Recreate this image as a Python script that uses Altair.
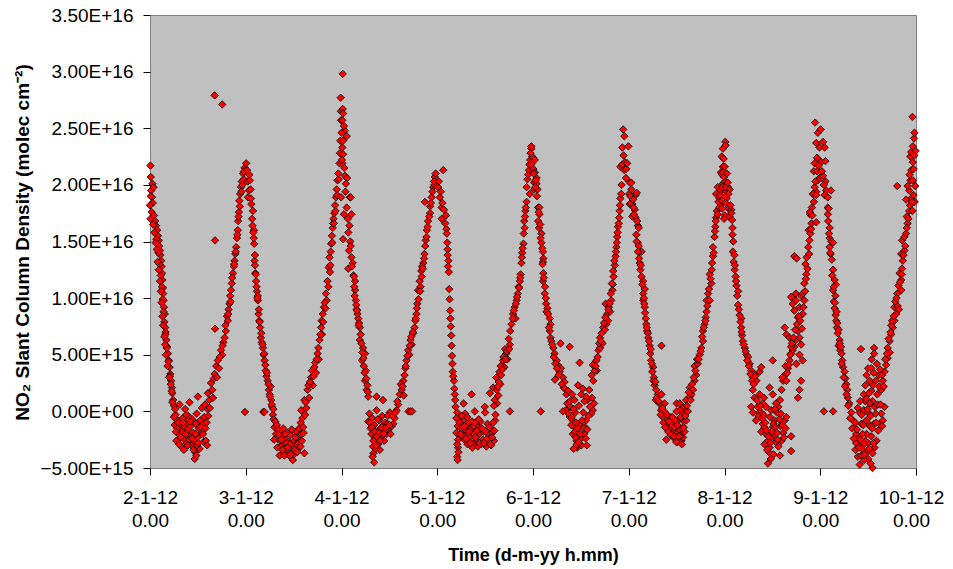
import altair as alt
import pandas as pd

# Readings per day: (hour of day, NO2 SCD in units of 1e15 molec cm-2)
day_02jan = [
    (0.1, 21.7), (0.2, 20.7), (0.3, 19.5), (0.5, 18.9), (0.6, 20.1), (0.1, 17.0), (0.4, 17.6), (0.7, 18.4),
    (0.2, 19.0), (0.9, 19.8), (0.0, 18.2), (1.0, 17.3),
    (1.3, 16.8), (1.5, 16.4), (1.8, 16.0), (2.0, 15.5), (2.2, 15.1), (2.3, 14.6), (2.5, 14.2), (2.6, 13.8),
    (2.8, 13.3), (2.9, 12.8), (3.0, 12.2), (3.1, 11.6), (3.25, 10.9), (3.3, 10.4), (3.4, 9.8), (3.5, 9.2),
    (3.7, 8.6), (3.8, 7.4), (3.9, 7.0), (4.1, 6.3), (4.3, 5.7), (4.5, 5.1), (4.7, 4.5), (4.9, 3.9), (5.1, 3.3),
    (5.3, 2.7), (5.5, 2.1), (5.6, 1.6), (1.6, 15.2), (2.1, 14.0), (2.4, 13.0), (2.7, 12.0), (3.0, 11.0),
    (3.2, 9.9), (3.4, 8.8), (3.6, 7.9), (3.9, 6.8), (4.2, 5.6), (4.6, 4.4), (5.0, 3.1), (5.4, 1.8), (5.8, 1.0),
    (6.0, 0.5),
    (6.0, -0.5), (6.2, -1.2), (6.4, -0.3), (6.6, -2.6), (6.8, -1.5), (7.0, -0.8), (7.2, -2.0), (7.4, 0.6),
    (7.6, -1.1), (7.8, -3.1), (8.0, -1.8), (8.2, -0.6), (8.4, -2.4), (8.6, -1.4), (8.8, 0.2), (9.0, -1.0),
    (9.2, -2.8), (9.4, -1.6), (9.6, -0.4), (9.9, 0.8), (10.0, -2.2), (10.2, -1.3), (10.4, -3.0), (10.6, -0.7),
    (10.8, -1.9), (11.0, -2.6), (11.2, -4.2), (11.3, -3.6), (11.5, -1.1), (11.7, -0.2), (11.9, -2.3),
    (12.0, 1.3), (12.2, -1.5), (12.4, -3.3), (12.6, -0.8), (12.8, -2.0), (13.0, 0.3), (13.2, -1.2),
    (13.4, -2.7), (13.6, -0.5), (13.8, 0.6), (14.0, -2.6), (14.2, -1.0), (14.4, 0.2), (14.6, -0.4),
    (8.5, -3.4), (9.8, -2.5), (11.8, -3.0), (7.3, -2.9),
    (14.5, 1.6), (14.9, 1.0), (15.3, 2.5), (15.6, 1.9), (16.0, 2.9), (16.2, 3.3), (16.6, 4.0), (17.0, 4.5),
    (17.3, 3.8), (17.8, 5.4), (18.1, 5.0), (18.4, 6.1), (18.7, 6.5), (19.0, 7.1), (19.3, 8.4), (19.5, 8.0),
    (19.7, 9.0), (19.9, 9.5), (20.1, 10.2), (20.3, 10.7), (20.5, 11.3), (20.8, 12.2), (21.0, 12.8),
    (21.2, 13.3), (21.4, 13.9), (21.6, 14.5), (21.8, 15.3), (22.0, 16.0), (22.1, 16.8), (22.3, 17.6),
    (22.4, 18.6), (22.6, 19.2), (22.8, 19.8), (23.0, 20.3), (23.3, 21.0), (23.5, 20.5), (23.7, 21.5),
    (23.9, 21.2), (23.8, -0.05),
    (16.2, 27.9), (18.1, 27.1), (16.3, 15.1), (16.3, 7.3),
]
day_02jan_more = [
    (0.8, 16.5), (1.1, 15.8), (1.4, 14.9), (1.7, 14.3), (1.9, 13.2), (2.2, 12.5), (2.5, 11.5), (2.7, 10.6),
    (2.9, 9.6), (3.1, 8.4), (3.3, 7.6), (3.6, 6.6), (3.8, 5.9), (4.0, 5.0), (4.4, 4.0), (4.8, 3.0),
    (5.2, 2.4), (5.6, 0.8), (6.3, 0.2),
    (6.5, -1.8), (7.1, -1.0), (7.7, -2.3), (8.3, -1.0), (8.9, -2.0), (9.5, -3.0), (10.1, -0.9), (10.5, -2.4),
    (10.9, -3.4), (11.4, -2.0), (12.1, -2.8), (12.7, -1.4), (13.3, -2.0), (13.9, -1.5), (14.3, -3.0),
    (11.6, -3.9), (9.1, -0.3),
    (15.0, 0.3), (15.8, 1.2), (16.8, 3.0), (17.5, 4.8), (18.2, 5.8), (18.9, 7.6), (19.6, 8.6), (20.2, 9.7),
    (20.6, 11.8), (21.1, 13.0), (21.5, 14.1), (21.9, 15.6), (22.2, 17.2), (22.5, 18.1), (22.9, 19.4),
    (23.2, 20.0), (23.6, 21.2),
]

day_03jan = [
    (0.1, 21.9), (0.3, 21.3), (0.5, 20.3), (0.55, 18.9), (0.8, 19.5), (1.0, 20.4), (1.2, 19.6), (1.4, 18.3),
    (1.6, 17.0), (1.8, 17.7), (2.05, 16.0), (2.1, 14.8), (2.2, 13.3), (2.3, 12.9), (2.6, 11.5), (2.8, 10.6),
    (3.05, 9.8), (3.2, 8.6), (3.6, 7.4), (3.8, 6.5), (4.3, 5.6), (4.7, 4.5), (5.0, 3.6), (5.5, 2.7),
    (5.8, 1.9), (6.4, 1.0), (4.4, -0.05), (4.7, -0.05), (2.0, 15.3), (2.4, 12.2), (3.0, 10.2), (3.4, 8.0),
    (4.0, 6.1), (4.5, 5.0), (5.2, 3.1), (6.0, 1.5), (6.2, 2.2), (6.6, 0.4),
    (6.8, -0.3), (7.0, -0.7), (7.2, -1.4), (7.4, -0.9), (7.6, -2.0), (7.8, -1.2), (8.0, -2.4), (8.2, -1.6),
    (8.5, -3.9), (8.6, -2.6), (8.8, -1.9), (9.0, -3.0), (9.2, -2.2), (9.4, -1.5), (9.6, -2.8), (9.8, -3.3),
    (10.0, -2.5), (10.2, -3.6), (10.4, -1.9), (10.6, -3.0), (10.8, -2.7), (11.0, -3.4), (11.2, -2.1),
    (11.4, -3.2), (11.6, -2.9), (11.8, -4.3), (12.0, -3.5), (12.2, -2.6), (12.4, -3.1), (12.6, -1.8),
    (12.8, -2.9), (13.0, -2.3), (13.2, -3.3), (13.4, -1.5), (13.6, -2.6), (13.8, -1.0), (14.0, -2.0),
    (14.2, -0.6), (14.4, -1.4), (14.7, -3.7), (14.9, -0.3), (10.9, -3.9), (12.1, -3.8), (9.5, -3.7),
    (11.5, -1.6),
    (13.9, 0.1), (14.7, 1.0), (15.2, 0.3), (15.5, 1.9), (15.9, 1.2), (16.4, 3.0), (16.8, 2.3), (17.2, 3.9),
    (17.6, 3.4), (18.0, 5.1), (18.3, 4.6), (18.5, 6.3), (18.9, 7.4), (19.1, 6.8), (19.3, 8.6), (19.6, 9.2),
    (20.1, 10.4), (20.3, 9.8), (20.5, 11.5), (20.8, 12.7), (21.0, 13.6), (21.2, 12.9), (21.4, 14.8),
    (21.6, 15.5), (21.8, 16.2), (22.0, 17.0), (22.2, 17.5), (22.4, 18.2), (22.6, 18.9), (22.8, 19.6),
    (23.0, 20.4), (23.2, 21.0), (23.5, 21.9), (23.6, 22.8), (23.7, 23.9), (23.8, 27.7), (23.85, 26.5),
    (23.9, 25.7),
]
day_03jan_more = [
    (0.9, 20.9), (1.3, 18.8), (1.7, 16.4), (1.9, 15.8), (2.3, 13.8), (2.5, 12.1), (2.7, 11.0), (2.9, 10.0),
    (3.3, 9.0), (3.5, 7.9), (3.9, 6.9), (4.2, 5.9), (4.6, 5.1), (4.9, 4.1), (5.3, 3.4), (5.7, 2.4),
    (6.1, 1.3), (6.5, 0.6), (6.9, 0.2),
    (7.1, -2.5), (7.9, -3.2), (8.3, -2.1), (8.9, -2.5), (9.3, -3.4), (9.9, -2.0), (10.3, -2.8), (10.7, -3.5),
    (11.1, -2.9), (11.3, -3.8), (11.7, -3.3), (12.3, -3.4), (12.5, -2.3), (12.9, -3.6), (13.3, -2.8),
    (13.7, -3.1), (14.1, -2.6), (14.5, -1.9), (10.5, -3.2), (9.7, -3.9),
    (15.0, 0.8), (15.7, 2.3), (16.1, 2.6), (16.6, 3.6), (17.0, 3.1), (17.4, 4.3), (17.8, 4.6), (18.2, 5.6),
    (18.7, 6.8), (19.0, 8.0), (19.4, 7.9), (19.8, 9.6), (20.0, 9.1), (20.7, 11.0), (21.1, 12.3),
    (21.3, 14.1), (21.7, 14.9), (21.9, 16.6), (22.1, 16.6), (22.5, 17.7), (22.9, 19.1), (23.3, 20.5),
]

day_04jan = [
    (0.3, 29.8), (0.3, 26.7), (0.4, 26.3), (0.2, 25.7), (0.85, 24.8), (0.0, 24.6), (1.3, 24.3), (0.4, 23.9),
    (0.2, 23.3), (0.4, 22.7), (0.2, 21.9), (0.85, 20.8), (1.4, 20.6), (1.1, 20.1), (-0.1, 18.9), (2.1, 18.9),
    (2.3, 18.9), (1.3, 18.0), (2.5, 17.4), (0.6, 17.4), (0.4, 15.2), (1.7, 15.8), (1.9, 14.2), (2.5, 13.6),
    (1.7, 12.6), (2.8, 13.1), (3.4, 11.5), (3.4, 10.7), (3.6, 9.8), (4.2, 8.2), (4.6, 7.4), (4.6, 6.3),
    (5.4, 5.6), (5.9, 5.1), (5.1, 4.5), (6.1, 3.6), (5.9, 2.7), (6.3, 1.9), (6.7, 1.3), (8.8, 1.3),
    (10.4, 1.0), (3.0, 12.0), (3.8, 9.0), (4.4, 7.8), (5.0, 6.0), (5.6, 4.0), (3.2, 11.0), (4.0, 8.6),
    (6.5, 2.3),
    (6.7, -0.9), (7.0, -0.2), (7.3, -1.5), (7.5, -2.0), (7.7, -0.6), (7.9, -3.1), (8.0, -3.7), (8.2, -4.5),
    (8.2, -1.2), (8.5, -2.4), (8.8, 0.1), (9.0, -1.8), (9.2, -2.9), (9.4, -0.8), (9.6, -3.4), (9.8, -1.5),
    (10.0, -2.2), (10.2, -0.4), (10.4, -1.3), (10.7, -2.6), (11.0, -1.0), (11.3, -2.0), (11.5, -1.1),
    (11.8, -1.6), (12.1, -0.1), (12.3, -2.0), (12.6, -1.3), (13.0, -1.1), (13.3, -0.6), (13.8, 0.1),
    (14.2, 0.6), (14.6, 1.5), (8.6, -3.3), (9.3, -2.7), (10.9, -1.7),
    (15.1, 1.9), (15.5, 2.7), (15.8, 3.2), (16.3, 4.5), (16.7, 5.4), (17.6, 5.9), (18.0, 6.9), (18.3, 7.4),
    (18.8, 8.6), (19.0, 9.5), (19.2, 10.7), (19.6, 11.5), (20.0, 12.4), (20.5, 13.1), (20.8, 13.9),
    (21.1, 15.1), (21.4, 16.0), (21.7, 16.8), (22.2, 17.5), (20.9, 18.5), (22.2, 18.1), (22.6, 18.9),
    (23.0, 19.8), (23.4, 20.7), (23.6, 21.0), (23.3, 20.0), (16.0, 3.8), (17.0, 5.0), (18.5, 8.0),
    (19.8, 11.0), (17.3, 6.3), (20.2, 12.8), (14.9, 2.4), (15.6, 1.4),
    (16.8, 0.0), (17.3, 0.0), (17.7, 0.0),
]
day_04jan_more = [
    (0.6, 25.2), (0.1, 22.2), (0.7, 21.5), (1.0, 19.4), (1.6, 17.0), (2.0, 16.4), (2.2, 15.0), (2.3, 14.6),
    (2.6, 12.8), (3.1, 11.9), (3.3, 10.2), (3.7, 9.4), (3.9, 8.9), (4.3, 7.6), (4.8, 6.8), (5.2, 5.2),
    (5.5, 4.7), (5.8, 3.4), (6.2, 2.9), (6.6, 1.7),
    (7.1, -1.0), (7.6, -1.4), (8.0, -2.6), (8.4, -1.8), (8.7, -3.0), (8.9, -2.2), (9.1, -0.7), (9.5, -1.9),
    (9.7, -2.6), (10.1, -1.4), (10.5, -2.0), (11.2, -1.4), (11.6, -0.4), (12.0, -1.2), (12.8, -0.4),
    (13.5, -0.1), (14.0, 0.9), (7.8, -4.0),
    (15.3, 2.2), (16.1, 4.0), (16.5, 4.9), (17.1, 5.8), (17.5, 6.6), (17.9, 7.0), (18.6, 8.2), (18.9, 9.1),
    (19.3, 9.9), (19.7, 10.6), (20.1, 11.9), (20.4, 12.6), (20.7, 13.5), (21.0, 14.6), (21.3, 15.4),
    (21.6, 16.3), (22.0, 17.2), (22.4, 18.4), (22.8, 19.4), (23.2, 20.3),
]

day_05jan = [
    (0.2, 19.8), (0.65, 18.9), (1.1, 18.0), (1.5, 21.3), (1.3, 18.4), (1.1, 17.0), (2.2, 17.3),
    (2.3, 16.1), (2.4, 15.7), (2.5, 14.9), (2.6, 14.3), (2.8, 13.3), (2.9, 12.3), (3.0, 10.8), (3.2, 8.9),
    (3.4, 7.5), (3.5, 6.7), (3.7, 4.9), (3.8, 4.2), (3.9, 3.5), (4.2, 2.7), (4.3, 2.0), (4.4, 1.5),
    (5.0, -0.1), (5.1, -1.3), (5.2, -2.5), (5.2, -3.2), (5.0, -4.0), (5.1, -4.3), (4.8, -0.6), (4.8, -1.9),
    (5.3, -3.6), (5.0, -2.9),
    (6.5, -0.8), (6.6, 0.7), (6.0, -1.5), (6.3, -2.1), (7.3, -1.7), (7.0, -0.2), (8.1, -2.3), (8.6, 1.5),
    (7.8, -1.0), (9.0, -2.8), (9.4, 0.0), (9.8, -1.3), (10.2, -3.1), (10.5, -2.0), (10.8, -0.9),
    (11.4, -2.5), (11.9, 0.4), (12.0, -0.1), (12.3, -3.1), (12.6, -1.1), (13.1, -2.3), (13.5, -3.0),
    (13.3, -1.6), (8.4, -1.5), (7.6, -2.9), (9.2, -2.0), (10.0, -2.6), (11.0, -2.9), (12.8, -2.7),
    (13.8, -1.9), (14.2, -2.6), (14.5, -0.8), (6.8, -2.5), (8.8, -3.2), (11.6, -1.8),
    (13.2, 1.6), (14.0, 2.1), (14.8, 3.0), (15.0, 0.7), (15.3, 1.4), (15.6, 3.5), (16.5, 4.5), (16.0, 3.2),
    (17.3, 5.1), (18.2, 5.9), (18.3, 7.1), (18.6, 7.7), (19.0, 8.6), (19.4, 9.2), (19.9, 9.8),
    (20.2, 10.4), (20.7, 11.5), (20.9, 12.1), (21.1, 13.1), (21.3, 14.0), (21.6, 14.8), (21.7, 15.7),
    (21.8, 16.8), (22.1, 17.7), (22.4, 18.5), (22.4, 19.8), (22.6, 20.5), (23.0, 21.3), (23.3, 22.2),
    (23.6, 23.2), (23.6, 23.4), (23.8, 22.5), (18.2, 0.0),
    (14.4, 1.0), (15.8, 2.4), (16.8, 3.9), (17.6, 4.6), (17.0, 5.5), (19.6, 8.2), (20.4, 11.0),
    (15.4, 2.6), (14.6, -0.3),
]
day_05jan_more = [
    (0.4, 20.3), (0.9, 19.4), (1.7, 17.8), (2.0, 16.6), (2.6, 13.8), (2.7, 12.8), (3.1, 9.9), (3.3, 8.2),
    (3.6, 5.8), (4.0, 3.1), (4.5, 1.0), (4.6, 0.4),
    (5.6, -1.0), (5.8, -2.0), (6.1, -0.4), (6.4, -1.3), (6.9, -1.3), (7.2, -2.4), (7.5, -0.5), (7.9, -1.8),
    (8.3, -2.8), (8.7, -0.9), (9.1, -1.3), (9.6, -2.3), (10.0, -1.7), (10.4, -0.7), (10.6, -2.8),
    (11.2, -1.5), (11.7, -2.8), (12.2, -1.8), (12.5, -2.4), (13.0, -1.4), (13.3, -2.9), (13.7, -2.3),
    (14.0, -1.0), (14.3, -1.7), (9.5, -1.0),
    (14.2, 0.5), (14.9, 1.9), (15.2, 2.2), (15.9, 4.0), (16.3, 3.7), (16.6, 4.8), (17.1, 4.6), (17.5, 5.3),
    (17.9, 6.4), (18.0, 5.5), (18.9, 8.2), (19.2, 8.9), (19.7, 9.5), (20.0, 10.1), (20.5, 10.9),
    (20.8, 11.8), (21.2, 13.6), (21.4, 14.4), (21.9, 16.2), (22.0, 17.2), (22.2, 18.0), (22.8, 20.9),
    (23.1, 21.8), (23.4, 22.8),
]

day_06jan = [
    (0.0, 22.4), (-0.4, 21.8), (0.45, 22.2), (0.1, 21.4), (0.5, 21.1), (0.3, 20.2), (0.9, 20.6),
    (0.9, 20.1), (0.3, 19.6), (-0.8, 19.2), (1.1, 19.6), (0.6, 19.8),
    (1.3, 18.0), (1.6, 18.0), (1.6, 17.4), (1.3, 16.8), (1.5, 16.2), (2.1, 15.7), (2.1, 14.9), (2.5, 14.1),
    (2.6, 13.5), (2.5, 13.2), (2.6, 12.2), (2.5, 11.5), (2.95, 10.4), (3.3, 9.5), (3.6, 9.1), (4.2, 8.2),
    (4.4, 7.7), (4.2, 7.1), (4.4, 6.5), (5.1, 5.6), (5.4, 5.1), (5.9, 4.5), (6.2, 4.1), (6.7, 3.5),
    (7.5, 3.0), (7.7, 2.1), (7.0, 3.8), (7.9, 2.6),
    (1.95, 0.0), (6.9, 6.0), (9.2, 5.7), (11.7, 4.3), (5.5, 2.8),
    (8.4, 1.5), (8.2, 0.1), (8.6, 0.7), (9.2, -0.5), (9.4, 0.4), (10.0, -0.8), (10.4, -1.4), (10.0, -2.0),
    (10.9, -2.6), (11.1, -3.2), (11.3, -2.2), (10.9, -3.1), (12.1, -3.0), (13.5, -3.0), (11.7, -1.1),
    (12.6, -0.1), (12.1, 1.5), (13.0, -1.4), (13.3, -0.8), (13.7, 1.0), (14.1, 1.9), (15.0, 0.1),
    (14.6, -0.2), (15.3, 0.7), (11.3, 2.3), (12.5, 2.0), (9.8, 1.5), (10.6, -0.1), (7.5, 0.0),
    (10.2, -3.3), (11.6, -2.8), (11.0, -2.9), (12.0, -2.4), (12.8, -2.0), (9.6, -1.2), (10.8, -1.0),
    (14.7, 3.2), (15.1, 2.7), (15.0, 4.1), (15.9, 4.5), (16.4, 5.4), (16.8, 5.6), (16.8, 6.5), (17.2, 6.9),
    (17.6, 7.4), (18.0, 7.2), (18.4, 7.7), (18.6, 8.6), (18.8, 8.0), (19.3, 8.8), (19.6, 9.8), (19.9, 10.7),
    (20.2, 11.9), (20.5, 12.9), (20.7, 13.7), (20.9, 14.5), (21.1, 15.4), (21.3, 16.3), (21.5, 16.6),
    (21.7, 17.7), (21.9, 18.8), (22.1, 19.2), (21.9, 21.6), (22.4, 21.8), (22.9, 21.3), (23.3, 20.6),
    (23.4, 21.4), (22.4, 23.3), (23.9, 23.4), (22.9, 24.3), (22.6, 24.9), (18.2, 9.5),
    (16.0, 3.6), (17.4, 6.0), (19.0, 9.2), (20.0, 11.2),
]
day_06jan_more = [
    (0.2, 21.0), (0.7, 20.4), (1.0, 19.0), (1.4, 17.6), (1.8, 16.5), (1.9, 15.3), (2.3, 14.4), (2.4, 13.0),
    (2.7, 11.8), (3.0, 11.0), (3.2, 10.0), (3.4, 8.8), (3.8, 8.6), (4.0, 7.4), (4.6, 6.2), (4.8, 5.9),
    (5.2, 4.8), (5.6, 4.2), (6.0, 3.8), (6.4, 3.2), (7.2, 2.4), (8.0, 2.0), (8.8, 1.8),
    (8.9, -0.2), (9.3, 0.9), (9.7, -0.5), (10.2, 0.2), (10.5, -1.8), (10.7, -2.3), (11.2, -1.5),
    (11.4, -2.7), (11.8, -2.0), (12.3, -0.8), (12.7, -1.5), (13.2, -2.4), (13.6, -1.6), (13.9, -0.4),
    (14.3, 0.4), (14.8, 1.2), (12.9, 0.9), (11.5, 0.5), (10.4, 1.0), (13.3, 1.3),
    (15.5, 3.6), (15.7, 4.0), (16.2, 4.8), (16.6, 6.0), (17.0, 6.2), (17.8, 7.8), (18.1, 8.3), (18.9, 9.0),
    (19.2, 9.5), (19.5, 10.4), (19.8, 11.3), (20.1, 12.4), (20.4, 13.3), (20.8, 14.1), (21.0, 14.9),
    (21.2, 15.8), (21.6, 17.1), (21.8, 18.2), (22.2, 20.0), (22.7, 22.6), (23.1, 22.0), (23.6, 21.9),
]

day_07jan = [
    (0.25, 20.2), (0.65, 19.6), (0.65, 20.2), (0.1, 19.2), (0.9, 18.3), (1.75, 19.1), (2.0, 19.3),
    (0.25, 18.3), (0.5, 18.4),
    (1.5, 17.8), (1.2, 18.0), (1.75, 17.1), (0.9, 17.2), (2.3, 16.4), (2.5, 16.2), (1.9, 15.6), (2.3, 14.9),
    (2.75, 14.1), (3.2, 14.1), (2.3, 14.1), (2.75, 13.1), (2.9, 12.5), (3.2, 11.9), (3.6, 11.5),
    (4.0, 10.8), (3.6, 10.4), (3.6, 9.8), (4.0, 9.2), (4.25, 8.2), (4.4, 7.7), (4.6, 7.1), (4.8, 6.9),
    (5.25, 5.8), (5.4, 5.1), (5.6, 4.5), (6.1, 3.9), (6.3, 3.0), (6.5, 2.3), (6.9, 1.9), (7.3, 1.5),
    (6.8, 1.0), (8.2, 5.8),
    (7.7, 0.7), (8.1, 0.1), (8.5, -0.5), (8.9, 0.0), (9.4, -0.8), (9.4, -2.5), (9.8, -1.1), (10.3, -1.4),
    (10.7, -1.2), (11.1, -1.8), (11.5, -2.4), (12.0, -2.0), (12.4, -2.5), (12.8, -1.6), (13.2, -2.6),
    (13.6, -2.3), (14.0, -1.8), (13.6, -0.8), (13.2, 0.0), (13.6, 0.4), (14.4, 0.1), (14.4, -0.8),
    (14.8, 0.0), (12.4, -0.8), (12.8, 0.1), (12.0, 0.0), (11.1, -0.8), (10.3, -0.5), (9.0, 0.7),
    (8.2, 1.5), (12.0, 0.7), (12.8, 0.7), (11.5, -1.4), (10.8, -2.0), (12.2, -2.7), (13.0, -2.2),
    (11.8, -2.3),
    (14.4, 1.0), (15.3, 1.3), (15.7, 1.5), (15.3, 2.1), (16.1, 1.9), (16.5, 2.7), (16.9, 3.2), (16.5, 4.0),
    (17.3, 4.2), (17.8, 5.0), (18.2, 5.6), (18.6, 6.2), (18.6, 7.1), (19.0, 7.7), (19.3, 8.3), (19.5, 8.8),
    (19.5, 9.8), (19.9, 10.4), (20.3, 9.8), (20.7, 11.3), (20.3, 12.1), (20.9, 13.1), (21.1, 13.7),
    (21.1, 14.5), (21.5, 15.4), (21.7, 16.3), (21.9, 17.1), (22.1, 17.7), (22.7, 18.0), (23.1, 18.3),
    (21.9, 19.2), (22.7, 18.8), (22.3, 19.8), (23.1, 19.5), (23.6, 20.1), (23.1, 21.1), (23.6, 21.6),
    (23.3, 22.5), (23.6, 23.2), (24.2, 23.8), (24.5, 18.8), (24.5, 19.4), (24.9, 19.8), (24.1, 20.3),
]
day_07jan_more = [
    (0.4, 19.0), (1.1, 18.7), (1.3, 17.4), (2.1, 16.8), (2.0, 15.0), (2.5, 14.6), (2.6, 13.5), (3.0, 12.9),
    (3.4, 11.2), (3.8, 10.0), (3.9, 9.5), (4.1, 8.7), (4.5, 7.4), (4.9, 6.5), (5.1, 6.2), (5.5, 5.5),
    (5.8, 4.2), (5.9, 3.5), (6.2, 2.7), (6.7, 2.6), (7.0, 1.2), (7.5, 0.9),
    (8.0, -0.3), (8.4, 0.3), (8.7, -1.0), (9.1, -1.4), (9.6, -0.3), (9.9, -1.8), (10.1, -0.9), (10.5, -2.1),
    (10.9, -0.5), (11.3, -2.2), (11.7, -0.8), (12.2, -1.2), (12.6, -2.2), (13.0, -0.5), (13.4, -1.5),
    (13.8, -1.4), (14.2, -0.4), (14.6, 0.5), (11.9, -2.7), (13.3, -2.9),
    (15.0, 1.7), (15.5, 1.0), (15.9, 2.4), (16.3, 3.0), (16.7, 3.6), (17.1, 4.6), (17.5, 4.6), (18.0, 5.3),
    (18.4, 6.6), (18.8, 7.4), (19.2, 8.0), (19.7, 9.3), (20.1, 10.8), (20.5, 11.7), (20.8, 12.5),
    (21.3, 14.0), (21.6, 15.9), (21.8, 16.8), (22.3, 17.4), (22.5, 18.5), (22.9, 19.1), (23.4, 20.9),
    (23.8, 22.3),
]

day_08jan = [
    (0.3, 23.5), (0.05, 21.6), (-0.4, 21.1), (-0.1, 20.7), (-0.6, 19.8), (0.3, 19.8), (1.3, 19.6),
    (1.0, 19.2), (0.05, 18.9), (-0.6, 18.6), (0.3, 18.4), (1.0, 17.9), (1.7, 17.8), (-0.6, 17.9),
    (0.05, 17.3), (1.3, 17.2), (-0.1, 17.0), (1.7, 17.5),
    (2.0, 16.2), (2.0, 15.6), (2.1, 14.1), (2.5, 13.8), (2.55, 12.5), (2.8, 11.9), (3.0, 11.1), (3.4, 10.6),
    (3.4, 9.4), (3.8, 8.5), (4.2, 8.2), (4.2, 7.4), (4.4, 6.7), (4.6, 6.2), (5.1, 5.6), (5.5, 5.0),
    (5.9, 4.8), (6.3, 4.2), (6.7, 3.6), (7.1, 3.0), (7.5, 3.3), (8.0, 2.7), (8.8, 3.5), (9.2, 3.9),
    (7.1, 1.9), (7.5, 1.2), (6.7, 0.4), (7.1, -0.1), (7.9, -0.8), (8.3, 0.4), (8.8, 1.5), (9.2, -0.1),
    (9.6, -1.1), (10.0, -1.4), (10.4, -2.0), (10.9, -2.6), (11.3, -3.2), (10.9, -4.6), (11.7, -2.3),
    (12.1, -1.4), (12.5, -0.8), (13.1, -0.1), (13.5, 0.4), (13.9, 1.0), (12.5, -2.0), (13.5, -3.1),
    (13.9, -3.9), (14.3, -2.6), (14.7, -1.9), (15.1, -0.8), (15.5, -0.5), (16.7, -2.2), (16.7, -3.5),
    (12.1, 1.5), (11.3, 2.1), (12.1, 4.5), (10.4, 0.4), (11.7, 0.1), (12.9, 0.7), (9.6, 0.7), (8.8, -0.1),
    (11.1, -3.6), (10.0, -2.9), (12.3, -3.8), (11.6, -4.2), (9.2, -1.8), (12.8, -2.7), (14.0, -1.3),
    (14.3, 1.9), (14.7, 2.7), (15.1, 3.2), (15.5, 2.7), (15.9, 3.8), (16.3, 4.5), (16.7, 5.1), (17.1, 5.4),
    (17.5, 5.7), (17.9, 6.3), (18.4, 7.1), (18.8, 6.5), (19.2, 5.9), (18.8, 5.0), (19.6, 4.5), (18.0, 4.2),
    (18.8, 1.9), (18.4, 1.2), (19.2, 2.7), (15.1, 7.4), (15.5, 6.8), (16.3, 6.5), (16.7, 5.7),
    (16.7, 10.1), (17.1, 9.5), (17.5, 8.9), (17.9, 9.8), (18.8, 9.2), (18.4, 8.3), (19.6, 8.6), (20.0, 9.8),
    (19.2, 10.2), (17.9, 10.4),
    (19.6, 10.4), (20.0, 11.3), (20.5, 12.1), (20.3, 13.0), (20.6, 13.6), (21.0, 14.5), (21.3, 15.1),
    (21.1, 16.0), (21.8, 16.6), (21.4, 17.4), (21.9, 18.0), (22.2, 19.2), (23.0, 19.4), (22.6, 19.8),
    (23.0, 16.7), (21.4, 17.6), (17.5, 13.7), (18.1, 13.5),
    (22.7, 25.5), (23.4, 24.6), (24.1, 24.9), (23.0, 23.7), (23.8, 23.3), (24.7, 23.8), (25.1, 23.3),
    (22.6, 21.9), (23.4, 22.3), (24.2, 22.0), (25.3, 22.1), (22.4, 21.2), (23.2, 21.2), (23.8, 20.6),
    (24.7, 20.8), (25.3, 20.3), (23.4, 20.4), (22.2, 19.2), (23.0, 19.1), (25.5, 19.5), (26.7, 19.5),
    (25.1, 19.1),
]
day_08jan_more = [
    (0.6, 21.0), (0.8, 20.2), (1.5, 18.2), (1.9, 16.9), (2.2, 15.0), (2.3, 13.2), (2.6, 12.9), (2.9, 11.5),
    (3.2, 10.2), (3.6, 9.0), (4.0, 7.9), (4.3, 7.0), (4.8, 5.9), (5.3, 5.3), (5.7, 4.5), (6.1, 4.0),
    (6.5, 3.3), (6.9, 2.7), (7.3, 2.4), (7.7, 3.1),
    (8.1, 1.0), (8.5, -0.4), (9.0, 0.5), (9.4, -0.6), (9.8, -0.3), (10.2, -1.0), (10.6, -1.7), (10.7, -3.4),
    (11.0, -2.2), (11.5, -2.8), (11.9, -1.8), (12.3, -1.1), (12.7, -1.4), (13.2, -1.9), (13.3, -2.5),
    (13.7, -0.7), (14.1, -0.2), (14.5, -1.2), (14.9, -2.3), (15.3, -1.5), (11.4, -0.5), (12.6, 0.2),
    (9.9, 1.2),
    (14.5, 3.0), (15.3, 4.0), (15.7, 3.4), (16.1, 4.1), (16.5, 5.0), (16.9, 6.0), (17.3, 6.5), (17.7, 7.2),
    (18.2, 7.7), (18.6, 8.4), (19.0, 8.0), (19.4, 7.3), (19.8, 9.2), (20.2, 10.6), (20.4, 11.7),
    (20.8, 12.6), (21.2, 13.9), (21.5, 15.7), (21.7, 16.1), (22.0, 17.3), (22.4, 18.5), (22.8, 20.3),
    (23.2, 22.4), (23.6, 21.7), (24.4, 21.2), (24.9, 20.0),
]

day_09jan = [
    (1.9, 18.9), (1.9, 18.0), (1.9, 17.4), (2.0, 16.8), (2.35, 16.2), (2.35, 15.3), (2.8, 15.0), (3.2, 14.9),
    (2.35, 14.5), (2.6, 13.9), (3.2, 12.5), (3.6, 11.6), (3.9, 11.2), (3.2, 10.7), (3.4, 9.7), (3.6, 9.1),
    (3.85, 8.5), (4.0, 8.0), (4.2, 7.4), (4.4, 6.9), (4.85, 6.3), (4.6, 5.8), (5.0, 5.4), (5.3, 5.1),
    (5.5, 4.5), (5.7, 3.9), (6.1, 3.5), (6.3, 2.9), (6.5, 2.4), (6.8, 1.9),
    (0.9, 0.0), (3.2, 0.0),
    (6.9, 1.2), (7.3, 0.7), (7.8, -0.1), (8.2, -0.8), (8.6, -1.4), (9.0, -2.0), (9.0, -2.8), (9.4, -4.0),
    (9.9, -4.7), (10.3, -3.9), (11.6, -3.5), (12.0, -4.2), (13.1, -5.0), (13.1, -3.7), (14.1, -2.6),
    (14.5, -1.7), (14.9, -1.1), (15.3, -0.2), (15.7, -0.8), (16.1, 0.4), (9.9, -0.1), (10.3, -1.1),
    (10.9, 0.1), (11.3, 0.9), (10.9, 1.5), (11.3, 2.3), (11.6, 3.2), (12.0, 3.8), (10.2, 5.5), (13.5, 5.6),
    (13.5, 5.1), (12.8, 3.8), (12.4, 2.7), (12.8, 1.8), (13.1, 0.9), (12.4, 0.7), (12.0, -0.1),
    (12.4, -1.3), (12.8, -2.2), (13.5, -1.1), (13.9, -0.2), (14.3, 1.5), (13.9, 2.7), (14.7, 3.2),
    (12.0, -2.8), (11.6, -2.0), (11.3, -2.6), (10.9, -2.9), (10.6, -2.0), (9.6, -2.4), (8.8, -3.4),
    (11.0, -4.3), (12.6, -4.6), (13.6, -3.2), (10.5, -3.3), (11.8, -1.0), (10.0, 0.9), (9.4, 0.3),
    (15.3, 1.9), (15.7, 2.7), (16.1, 3.5), (16.5, 4.1), (16.9, 4.7), (16.9, 5.6), (17.4, 5.2), (17.4, 6.2),
    (17.8, 6.8), (18.2, 7.4), (17.8, 7.6), (18.6, 8.0), (19.0, 8.6), (18.6, 9.2), (19.4, 9.3), (19.3, 10.4),
    (19.7, 9.0), (20.3, 10.7), (20.3, 11.6), (19.9, 12.2), (20.5, 12.6), (20.7, 13.3), (20.3, 13.9),
    (21.1, 14.2), (20.5, 15.1), (21.1, 15.4), (21.5, 15.7), (21.9, 16.6), (21.7, 17.2), (22.3, 17.7),
    (23.1, 17.7), (22.8, 18.8), (21.5, 18.7), (22.3, 19.5), (23.4, 19.1), (21.9, 19.9), (22.6, 20.4),
    (19.3, 19.9), (23.2, 20.4), (22.8, 21.3), (23.2, 22.0), (22.6, 22.5), (22.8, 22.9), (23.2, 23.4),
    (23.5, 24.1), (23.6, 24.6), (23.1, 26.0), (23.8, 19.9), (23.7, 18.5),
]
day_09jan_more = [
    (2.1, 17.9), (2.2, 15.7), (2.5, 14.0), (2.9, 13.4), (3.0, 12.0), (3.4, 11.0), (3.8, 10.2), (3.7, 9.6),
    (4.1, 8.8), (4.3, 7.8), (4.6, 7.2), (4.9, 6.0), (5.2, 5.7), (5.4, 4.2), (5.9, 3.0), (6.2, 2.2),
    (6.6, 1.5), (7.0, 0.5),
    (7.5, -0.6), (8.0, -1.5), (8.4, -2.4), (8.8, -1.0), (9.2, -1.6), (9.7, -3.2), (10.1, -2.5), (10.4, -0.3),
    (10.8, -1.2), (11.1, -3.8), (11.5, -0.8), (11.9, 0.2), (12.3, -3.3), (12.6, -0.4), (13.0, -1.5),
    (13.3, -2.8), (13.7, 0.4), (14.0, -1.0), (14.4, 0.6), (14.8, 2.2), (15.1, 0.6), (15.5, -1.3),
    (12.2, 1.6), (11.5, 1.1), (13.4, 3.4), (14.2, 4.2), (12.9, 4.6), (13.2, 2.3), (15.0, 3.7),
    (15.5, 3.2), (15.9, 2.2), (16.3, 4.6), (16.7, 5.1), (17.1, 6.4), (17.6, 7.0), (18.0, 8.0), (18.4, 8.4),
    (18.8, 9.7), (19.1, 10.0), (19.6, 11.1), (20.0, 11.4), (20.4, 12.1), (20.9, 13.8), (21.3, 14.6),
    (21.7, 16.2), (22.1, 17.0), (22.5, 18.2), (23.0, 18.5), (22.4, 20.9), (23.4, 21.4), (23.6, 22.6),
    (23.9, 23.0),
]

days = [
    day_02jan + day_02jan_more,
    day_03jan + day_03jan_more,
    day_04jan + day_04jan_more,
    day_05jan + day_05jan_more,
    day_06jan + day_06jan_more,
    day_07jan + day_07jan_more,
    day_08jan + day_08jan_more,
    day_09jan + day_09jan_more,
]
tick_days = [0, 1, 2, 3, 4, 5, 6, 7, 8]
y_ticks = [-5, 0, 5, 10, 15, 20, 25, 30, 35]

rows = []
for d, pts in enumerate(days):
    for h, v in pts:
        rows.append({"t": d + h / 24.0, "v": v})
df = pd.DataFrame(rows)

font = "Liberation Sans"

x_axis = alt.Axis(
    values=tick_days,
    labelExpr="[(datum.value + 2) + '-1-12', '0.00']",
    labelFlush=False,
    labelOverlap=False,
    labelLineHeight=23,
    labelPadding=13,
    labelOffset={"condition": {"test": "datum.value == 8", "value": -5}, "value": 0},
    tickSize=7,
    title="Time (d-m-yy h.mm)",
    titleY=78,
    titleFontSize=18,
)
y_axis = alt.Axis(
    values=y_ticks,
    labelExpr="datum.value == 0 ? '0.00E+00' : (abs(datum.value) >= 10 ? format(datum.value / 10, '.2f') + 'E+16' : format(datum.value, '.2f') + 'E+15')",
    labelFlush=False,
    labelOverlap=False,
    labelPadding=10,
    tickSize=7,
    title="NO\u2082 Slant Column Density (molec cm\u207b\u00b2)",
    titleX=-122,
    titleY=227,
    titleAngle=270,
    titleAlign="center",
    titleBaseline="alphabetic",
    titleFontSize=19,
)

chart = (
    alt.Chart(df)
    .mark_point(shape="diamond", filled=True, fill="#FF0000", stroke="#000000",
                strokeWidth=0.8, size=55, opacity=1)
    .encode(
        x=alt.X("t:Q", scale=alt.Scale(domain=[0, 8], nice=False, zero=False), axis=x_axis),
        y=alt.Y("v:Q", scale=alt.Scale(domain=[-5, 35], nice=False, zero=False), axis=y_axis),
    )
    .properties(
        width=766,
        height=453,
        autosize=alt.AutoSizeParams(type="none"),
        padding={"left": 142, "top": 7, "right": 29, "bottom": 100},
        background="#FFFFFF",
    )
    .configure_view(fill="#C0C0C0", stroke="#808080", strokeWidth=1)
    .configure_axis(
        grid=False,
        domain=False,
        tickColor="#000000",
        tickWidth=1,
        labelFont=font,
        labelFontSize=19,
        labelColor="#000000",
        titleFont=font,
        titleFontWeight="bold",
        titleColor="#000000",
    )
)

chart.save("out.html", embed_options={"renderer": "svg", "actions": False})
